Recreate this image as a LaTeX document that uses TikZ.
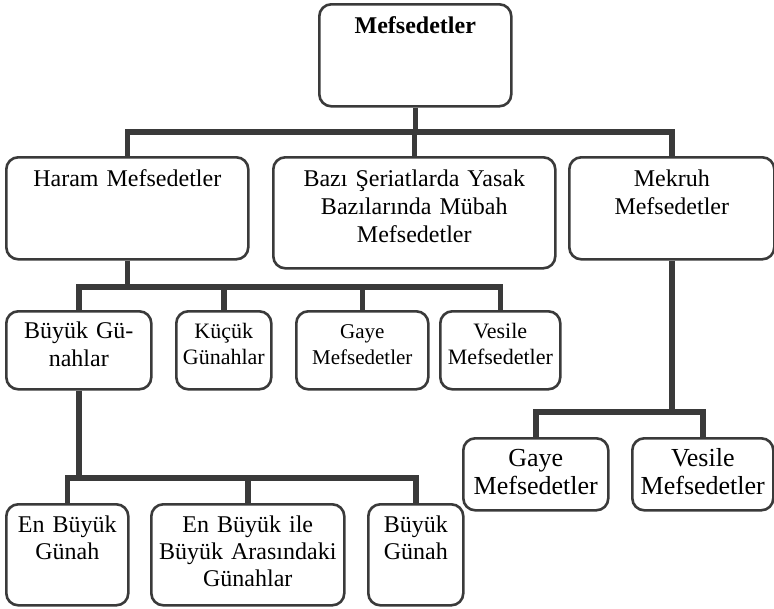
\documentclass[tikz,border=0pt]{standalone}
\usepackage{fontspec}
\setmainfont{Liberation Serif}
\definecolor{cizgi}{HTML}{3A3A3A}
\tikzset{
  >=latex,
}
\tikzstyle{kutu}=[draw=cizgi,line width=2.6pt,rounded corners=12pt,anchor=north west,
  inner sep=0pt,align=center,text height=29pt,font=\fontsize{24}{28}\selectfont]
\tikzstyle{dal}=[draw=cizgi,line width=5.5pt,line join=miter]

\begin{document}
\begin{tikzpicture}[x=1pt,y=-1pt]
    \useasboundingbox (0,0) rectangle (774,608);

    \node[kutu,text width=192pt,text depth=73pt,font=\fontsize{24}{28}\selectfont\bfseries]
      (mef) at (318,3) {Mefsedetler};

    \node[kutu,text width=242pt,text depth=73pt] (haram) at (5,156) {Haram Mefsedetler};
    \node[kutu,text width=282pt,text depth=82pt] (bazi) at (272,156)
      {Bazı Şeriatlarda Yasak\\Bazılarında Mübah\\Mefsedetler};
    \node[kutu,text width=205pt,text depth=73pt] (mekruh) at (568,156) {Mekruh\\Mefsedetler};

    \node[kutu,text width=145pt,text height=27pt,text depth=51pt] (buyukg) at (5,310)
      {Büyük Gü-\\nahlar};
    \node[kutu,text width=95pt,text height=27pt,text depth=51pt,
      font=\fontsize{22}{26}\selectfont] (kucuk) at (175,310) {Küçük\\Günahlar};
    \node[kutu,text width=132pt,text height=27pt,text depth=51pt,
      font=\fontsize{21}{26}\selectfont] (gaye1) at (295,310) {Gaye\\Mefsedetler};
    \node[kutu,text width=120pt,text height=27pt,text depth=51pt,
      font=\fontsize{22}{26}\selectfont] (vesile1) at (439,310) {Vesile\\Mefsedetler};

    \node[kutu,text width=145pt,text height=28pt,text depth=44pt,
      font=\fontsize{26}{28}\selectfont] (gaye2) at (462,437) {Gaye\\Mefsedetler};
    \node[kutu,text width=141pt,text height=28pt,text depth=44pt,
      font=\fontsize{26}{28}\selectfont] (vesile2) at (631,437) {Vesile\\Mefsedetler};

    \node[kutu,text width=122pt,text height=28pt,text depth=73pt,
      font=\fontsize{24}{27}\selectfont] (enb) at (5,503) {En Büyük\\Günah};
    \node[kutu,text width=193pt,text height=28pt,text depth=73pt,
      font=\fontsize{24}{27}\selectfont] (ara) at (150,503)
      {En Büyük ile\\Büyük Arasındaki\\Günahlar};
    \node[kutu,text width=95pt,text height=28pt,text depth=73pt,
      font=\fontsize{24}{27}\selectfont] (bg) at (367,503) {Büyük\\Günah};

    \coordinate (c1) at (0,132);
    \coordinate (c2) at (0,287);
    \coordinate (c3) at (0,412);
    \coordinate (c4) at (0,478);

    \draw[dal] (mef.south) -- (mef.south |- c1);
    \draw[dal] (haram.north) -- (haram.north |- c1) -- (mekruh.north |- c1) -- (mekruh.north);
    \draw[dal] (bazi.north) -- (bazi.north |- c1);

    \draw[dal] (haram.south) -- (haram.south |- c2);
    \draw[dal] (buyukg.north) -- (buyukg.north |- c2) -- (vesile1.north |- c2) -- (vesile1.north);
    \draw[dal] (kucuk.north) -- (kucuk.north |- c2);
    \draw[dal] (gaye1.north) -- (gaye1.north |- c2);

    \draw[dal] (mekruh.south) -- (mekruh.south |- c3);
    \draw[dal] (gaye2.north) -- (gaye2.north |- c3) -- (vesile2.north |- c3) -- (vesile2.north);

    \draw[dal] (buyukg.south) -- (buyukg.south |- c4);
    \draw[dal] (enb.north) -- (enb.north |- c4) -- (bg.north |- c4) -- (bg.north);
    \draw[dal] (ara.north) -- (ara.north |- c4);
  \end{tikzpicture}
\end{document}
